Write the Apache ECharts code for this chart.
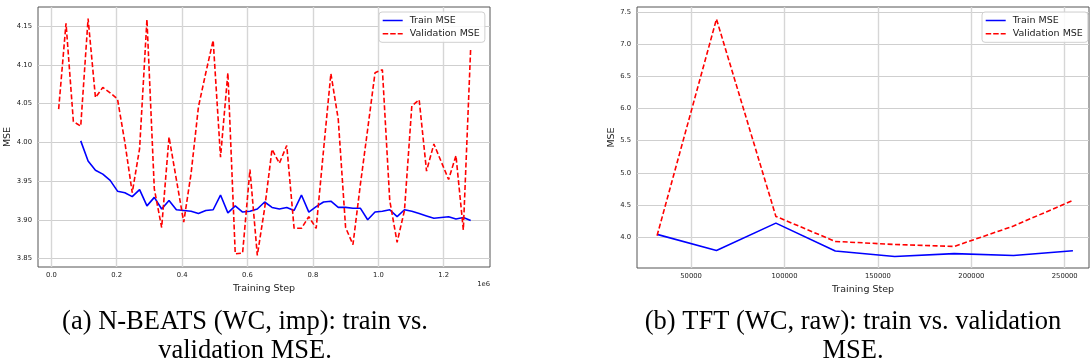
<!DOCTYPE html>
<html>
<head>
<meta charset="utf-8">
<script src="https://cdn.jsdelivr.net/npm/echarts@6/dist/echarts.min.js"></script>
<style>
  html, body { margin: 0; padding: 0; background: #fff; }
  #chart { width: 1090px; height: 364px; }
</style>
</head>
<body>
<div id="chart"></div>
<script>
// (a) N-BEATS training steps and MSE
const nbeatsSteps = [22500, 45000, 67500, 90000, 112500, 135000, 157500, 180000, 202500, 225000,
  247500, 270000, 292500, 315000, 337500, 360000, 382500, 405000, 427500, 450000,
  472500, 495000, 517500, 540000, 562500, 585000, 607500, 630000, 652500, 675000,
  697500, 720000, 742500, 765000, 787500, 810000, 832500, 855000, 877500, 900000,
  922500, 945000, 967500, 990000, 1012500, 1035000, 1057500, 1080000, 1102500, 1125000,
  1147500, 1170000, 1192500, 1215000, 1237500, 1260000, 1282500];
const nbeatsTrain = [null, null, null, 4.002, 3.976, 3.964, 3.959, 3.951, 3.937, 3.935,
  3.930, 3.939, 3.918, 3.929, 3.914, 3.925, 3.913, 3.912, 3.911, 3.908,
  3.912, 3.913, 3.932, 3.909, 3.918, 3.910, 3.911, 3.914, 3.923, 3.916,
  3.914, 3.916, 3.912, 3.932, 3.910, 3.917, 3.923, 3.924, 3.916, 3.916,
  3.915, 3.915, 3.900, 3.910, 3.911, 3.913, 3.904, 3.913, 3.911, 3.908,
  3.905, 3.902, 3.903, 3.904, 3.901, 3.903, 3.899];
const nbeatsVal = [4.043, 4.154, 4.027, 4.021, 4.160, 4.058, 4.071, 4.064, 4.056, 4.000,
  3.935, 3.992, 4.159, 3.940, 3.890, 4.007, 3.952, 3.897, 3.960, 4.046,
  4.090, 4.132, 3.981, 4.090, 3.856, 3.857, 3.965, 3.854, 3.915, 3.991,
  3.973, 3.996, 3.889, 3.889, 3.904, 3.889, 3.990, 4.089, 4.030, 3.890,
  3.868, 3.945, 4.017, 4.090, 4.094, 3.925, 3.871, 3.912, 4.047, 4.055,
  3.963, 3.998, 3.975, 3.952, 3.983, 3.887, 4.122];

// (b) TFT training steps and MSE
const tftSteps = [31800, 63600, 95400, 127200, 159000, 190800, 222600, 254400];
const tftTrain = [4.04, 3.79, 4.215, 3.78, 3.695, 3.74, 3.71, 3.785];
const tftVal = [4.02, 7.395, 4.32, 3.93, 3.883, 3.852, 4.17, 4.57];

// tick values
const nbeatsXTicks = [0, 200000, 400000, 600000, 800000, 1000000, 1200000];
const nbeatsYTicks = [3.85, 3.90, 3.95, 4.00, 4.05, 4.10, 4.15];
const tftXTicks = [50000, 100000, 150000, 200000, 250000];
const tftYTicks = [4.0, 4.5, 5.0, 5.5, 6.0, 6.5, 7.0, 7.5];

const seriesNames = ["Train MSE", "Validation MSE"];
const captionA = ["(a) N-BEATS (WC, imp): train vs.", "validation MSE."];
const captionB = ["(b) TFT (WC, raw): train vs. validation", "MSE."];

const pairs = (xs, ys) => xs.map((x, i) => [x, ys[i]]);

const FONT = "DejaVu Sans";
const tickLabel = { fontFamily: FONT, fontSize: 6.8, color: "#222" };

function xAxis(gridIndex, min, max, ticks, fmt) {
  return {
    type: "value", gridIndex, min, max,
    name: "Training Step", nameLocation: "middle", nameGap: 12.5,
    nameTextStyle: { fontFamily: FONT, fontSize: 9.5, color: "#222" },
    axisLine: { show: false },
    axisTick: { show: false, customValues: ticks },
    axisLabel: { ...tickLabel, margin: 5, customValues: ticks, formatter: fmt },
    splitLine: { show: true, lineStyle: { color: "#d6d6d6", width: 1.4 } },
  };
}
function yAxis(gridIndex, min, max, ticks, fmt, gap) {
  return {
    type: "value", gridIndex, min, max,
    name: "MSE", nameLocation: "middle", nameGap: gap, nameRotate: 90,
    nameTextStyle: { fontFamily: FONT, fontSize: 9.5, color: "#222" },
    axisLine: { show: false },
    axisTick: { show: false, customValues: ticks },
    axisLabel: { ...tickLabel, margin: 6, customValues: ticks, formatter: fmt },
    splitLine: { show: true, lineStyle: { color: "#cfcfcf", width: 1 } },
  };
}

// legend icons drawn as a solid / dashed stroke
const solidIcon = "path://M0,0h20v1.5h-20z";
const dashIcon = "path://M0,0h5.5v1.5h-5.5z M7.5,0h5.5v1.5h-5.5z M15,0h5v1.5h-5z";

function legend(left) {
  return {
    left, top: 12, orient: "vertical",
    data: [
      { name: seriesNames[0], icon: solidIcon },
      { name: seriesNames[1], icon: dashIcon },
    ],
    itemWidth: 20, itemHeight: 10, itemGap: 3.3,
    symbolKeepAspect: true,
    itemStyle: { borderWidth: 0 },
    padding: [3.5, 5, 3.5, 3.7],
    borderColor: "#d0d0d0", borderWidth: 1, borderRadius: 3,
    backgroundColor: "rgba(255,255,255,0.85)",
    textStyle: { fontFamily: FONT, fontSize: 9.5, color: "#222", lineHeight: 10, padding: [0, 0, 0, 2] },
    selectedMode: false,
  };
}
const trainStyle = { color: "#0000ff", width: 1.6, type: "solid" };
const valStyle = { color: "#ff0000", width: 1.6, type: [5, 2.5] };

function caption(x, lines) {
  return lines.map((t, i) => ({
    type: "text", x, y: 322 + i * 29,
    style: { text: t, fontFamily: "Liberation Serif", fontSize: 26.5, fill: "#000", align: "center", verticalAlign: "middle" },
  }));
}

const chart = echarts.init(document.getElementById("chart"), null, { renderer: "canvas" });
chart.setOption({
  animation: false,
  backgroundColor: "#fff",
  grid: [
    { left: 38, top: 7, width: 452, height: 260, show: true, borderColor: "#555", borderWidth: 1, backgroundColor: "transparent" },
    { left: 637, top: 7, width: 452, height: 261, show: true, borderColor: "#555", borderWidth: 1, backgroundColor: "transparent" },
  ],
  xAxis: [
    xAxis(0, -40673, 1341590, nbeatsXTicks, (v) => (v / 1e6).toFixed(1)),
    xAxis(1, 21061, 263000, tftXTicks, (v) => String(v)),
  ],
  yAxis: [
    yAxis(0, 3.839, 4.175, nbeatsYTicks, (v) => v.toFixed(2), 22),
    yAxis(1, 3.516, 7.583, tftYTicks, (v) => v.toFixed(1), 18),
  ],
  legend: [legend(379), legend(982)],
  series: [
    { name: seriesNames[0], type: "line", xAxisIndex: 0, yAxisIndex: 0, data: pairs(nbeatsSteps, nbeatsTrain),
      symbol: "none", lineStyle: trainStyle, itemStyle: { color: "#0000ff" }, z: 3 },
    { name: seriesNames[1], type: "line", xAxisIndex: 0, yAxisIndex: 0, data: pairs(nbeatsSteps, nbeatsVal),
      symbol: "none", lineStyle: valStyle, itemStyle: { color: "#ff0000" }, z: 4 },
    { name: seriesNames[0], type: "line", xAxisIndex: 1, yAxisIndex: 1, data: pairs(tftSteps, tftTrain),
      symbol: "none", lineStyle: trainStyle, itemStyle: { color: "#0000ff" }, z: 3 },
    { name: seriesNames[1], type: "line", xAxisIndex: 1, yAxisIndex: 1, data: pairs(tftSteps, tftVal),
      symbol: "none", lineStyle: valStyle, itemStyle: { color: "#ff0000" }, z: 4 },
  ],
  graphic: [
    { type: "text", x: 490, y: 284,
      style: { text: "1e6", fontFamily: FONT, fontSize: 6.8, fill: "#222", align: "right", verticalAlign: "middle" } },
    ...caption(245, captionA),
    ...caption(853, captionB),
  ],
});
</script>
</body>
</html>
